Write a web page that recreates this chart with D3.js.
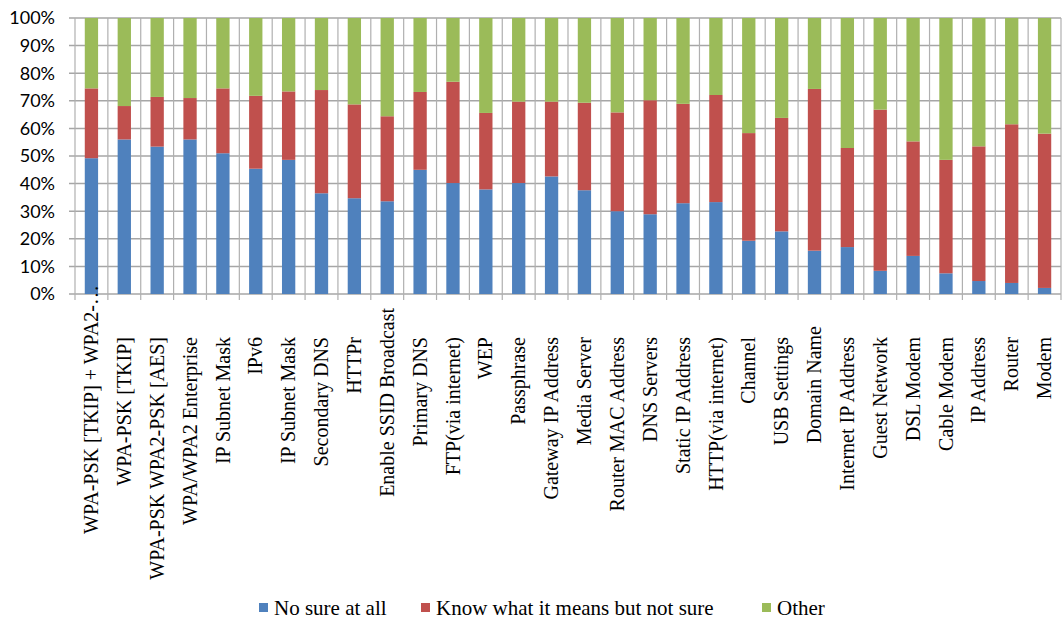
<!DOCTYPE html>
<html>
<head>
<meta charset="utf-8">
<script src="https://cdn.jsdelivr.net/npm/d3@7"></script>
<style>
  body { margin: 0; background: #fff; }
  .ylab text { font-family: Lato, "Open Sans", sans-serif; font-size: 18px; fill: #000; }
  .xlab text, .legend text { font-family: "Liberation Serif", serif; fill: #000; }
</style>
</head>
<body>
<div id="chart"></div>
<script>
// categories as shown on the x axis
const categories = [
  "WPA-PSK [TKIP] + WPA2-…", "WPA-PSK [TKIP]", "WPA-PSK WPA2-PSK [AES]", "WPA/WPA2 Enterprise",
  "IP Subnet Mask", "IPv6", "IP Subnet Mask", "Secondary DNS", "HTTPr", "Enable SSID Broadcast",
  "Primary DNS", "FTP(via internet)", "WEP", "Passphrase", "Gateway IP Address", "Media Server",
  "Router MAC Address", "DNS Servers", "Static IP Address", "HTTP(via internet)", "Channel",
  "USB Settings", "Domain Name", "Internet IP Address", "Guest Network", "DSL Modem",
  "Cable Modem", "IP Address", "Router", "Modem"
];

// percentages
const noSure = [49.2, 56.0, 53.4, 56.0, 51.0, 45.4, 48.6, 36.5, 34.7, 33.6,
                45.0, 40.2, 37.9, 40.2, 42.6, 37.6, 30.0, 28.9, 32.9, 33.3,
                19.3, 22.7, 15.7, 17.0, 8.4, 13.8, 7.5, 4.7, 4.0, 2.2];
const knowMeaning = [25.3, 12.1, 18.0, 15.0, 23.5, 26.4, 24.8, 37.4, 34.0, 30.8,
                     28.2, 36.7, 27.7, 29.5, 27.1, 31.7, 35.8, 41.3, 36.0, 38.8,
                     39.0, 41.1, 58.6, 35.9, 58.4, 41.5, 41.1, 48.8, 57.5, 55.9];
const other = [25.5, 31.9, 28.6, 29.0, 25.5, 28.2, 26.6, 26.1, 31.3, 35.6,
               26.8, 23.1, 34.4, 30.3, 30.3, 30.7, 34.2, 29.8, 31.1, 27.9,
               41.7, 36.2, 25.7, 47.1, 33.2, 44.7, 51.4, 46.5, 38.5, 41.9];

const seriesNames = ["No sure at all", "Know what it means but not sure", "Other"];
const seriesColors = ["#4F81BD", "#C0504D", "#9BBB59"];
const yTicks = [0, 10, 20, 30, 40, 50, 60, 70, 80, 90, 100];

// Excel pushes a few rotated labels up a bit
const labelShift = { 0: -52, 9: -29, 22: -11 };

const width = 1062, height = 619;
const margin = { left: 75, right: 1061, top: 18, bottom: 294 };

const rows = categories.map((c, i) => ({ i: i, a: noSure[i], b: knowMeaning[i], c: other[i] }));
const stack = d3.stack().keys(["a", "b", "c"])(rows);

const svg = d3.select("#chart").append("svg")
  .attr("width", width)
  .attr("height", height);

const x = d3.scaleBand().domain(d3.range(categories.length)).range([margin.left, margin.right]).padding(0);
const y = d3.scaleLinear().domain([0, 100]).range([margin.bottom, margin.top]);
const barW = x.bandwidth() * 0.405;

// grid
svg.append("g").selectAll("line")
  .data(yTicks)
  .enter().append("line")
  .attr("x1", margin.left - 6).attr("x2", margin.right)
  .attr("y1", d => y(d)).attr("y2", d => y(d))
  .attr("stroke", "#a6a6a6").attr("stroke-width", 1.5);

const xEdges = d3.range(categories.length + 1).map(k => margin.left + k * x.step());
svg.append("g").selectAll("line")
  .data(xEdges)
  .enter().append("line")
  .attr("x1", d => d).attr("x2", d => d)
  .attr("y1", margin.top).attr("y2", margin.bottom + 6)
  .attr("stroke", "#b0b0b0").attr("stroke-width", 1.2);

// bars
svg.append("g").selectAll("g")
  .data(stack)
  .enter().append("g")
  .attr("fill", (d, k) => seriesColors[k])
  .selectAll("rect")
  .data(d => d)
  .enter().append("rect")
  .attr("x", d => x(d.data.i) + (x.bandwidth() - barW) / 2)
  .attr("y", d => y(d[1]))
  .attr("width", barW)
  .attr("height", d => y(d[0]) - y(d[1]));

// y axis labels
svg.append("g").attr("class", "ylab").selectAll("text")
  .data(yTicks)
  .enter().append("text")
  .attr("x", 55)
  .attr("y", d => y(d))
  .attr("dy", "0.36em")
  .attr("text-anchor", "end")
  .text(d => d + "%");

// x axis labels, rotated
svg.append("g").attr("class", "xlab").selectAll("text")
  .data(categories)
  .enter().append("text")
  .attr("transform", (d, i) => "translate(" + (x(i) + x.bandwidth() / 2) + "," + (337 + (labelShift[i] || 0)) + ") rotate(-90)")
  .attr("dy", "0.33em")
  .attr("text-anchor", "end")
  .style("font-size", "20px")
  .text(d => d);

// legend
const legendX = [259, 421, 762];
const legend = svg.append("g").attr("class", "legend").selectAll("g")
  .data(seriesNames)
  .enter().append("g")
  .attr("transform", (d, k) => "translate(" + legendX[k] + ",603)");
legend.append("rect")
  .attr("width", 9).attr("height", 9)
  .attr("fill", (d, k) => seriesColors[k]);
legend.append("text")
  .attr("x", 15).attr("y", 5)
  .attr("dy", "0.35em")
  .style("font-size", "21px")
  .text(d => d);
</script>
</body>
</html>
